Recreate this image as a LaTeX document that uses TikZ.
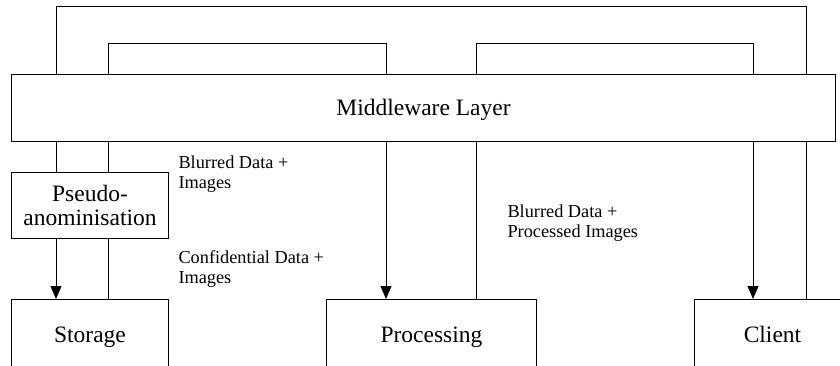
\documentclass[tikz,border=0pt]{standalone}
\usepackage{fontspec}
\setmainfont{Liberation Serif}
\usetikzlibrary{arrows.meta}
\begin{document}
\begin{tikzpicture}[x=1pt,y=-1pt,line width=1pt,
  box/.style={draw,fill=white,inner sep=0pt,anchor=north west,
    font=\fontsize{23.5}{24}\selectfont,text height=16pt,text depth=0pt},
  pbox/.style={draw,fill=white,inner sep=0pt,anchor=north west,align=center,
    font=\fontsize{23.5}{24}\selectfont},
  lbl/.style={anchor=north west,inner sep=0pt,align=left,
    font=\fontsize{18.3}{20.5}\selectfont},
  arr/.style={-{Triangle[width=11pt,length=13pt]}}]
\useasboundingbox (0,0) rectangle (840,366);
\clip (0,0) rectangle (840,366);
% x positions of connectors
\coordinate (c1) at (56,0);
\coordinate (c2) at (108,0);
\coordinate (c3) at (386,0);
\coordinate (c4) at (476,0);
\coordinate (c5) at (753,0);
\coordinate (c6) at (806,0);
\coordinate (tOuter) at (0,7);
\coordinate (tInner) at (0,44);
% nodes
\node[box,minimum width=824pt,minimum height=67pt] (mw) at (11,74) {Middleware Layer};
\node[pbox,minimum width=157pt,minimum height=66pt] (pseudo) at (11,172) {Pseudo-\\anominisation};
\node[box,minimum width=157pt,minimum height=70pt] (storage) at (11,299) {Storage};
\node[box,minimum width=210pt,minimum height=70pt] (proc) at (326,299) {Processing};
\node[box,minimum width=156pt,minimum height=70pt] (client) at (694,299) {Client};
% loops above the middleware layer
\draw (mw.north -| c1) -- (c1 |- tOuter) -- (c6 |- tOuter) -- (mw.north -| c6);
\draw (mw.north -| c2) -- (c2 |- tInner) -- (c3 |- tInner) -- (mw.north -| c3);
\draw (mw.north -| c4) -- (c4 |- tInner) -- (c5 |- tInner) -- (mw.north -| c5);
% storage side
\draw (mw.south -| c1) -- (pseudo.north -| c1);
\draw[arr] (pseudo.south -| c1) -- (storage.north -| c1);
\draw (mw.south -| c2) -- (pseudo.north -| c2);
\draw (pseudo.south -| c2) -- (storage.north -| c2);
% processing side
\draw[arr] (mw.south -| c3) -- (proc.north -| c3);
\draw (proc.north -| c4) -- (mw.south -| c4);
% client side
\draw[arr] (mw.south -| c5) -- (client.north -| c5);
\draw (client.north -| c6) -- (mw.south -| c6);
% labels
\node[lbl] (l1) at (178,155) {Blurred Data +\\Images};
\node[lbl] (l2) at (178,250) {Confidential Data +\\Images};
\node[lbl] (l3) at (507,204) {Blurred Data +\\Processed Images};
\end{tikzpicture}
\end{document}
